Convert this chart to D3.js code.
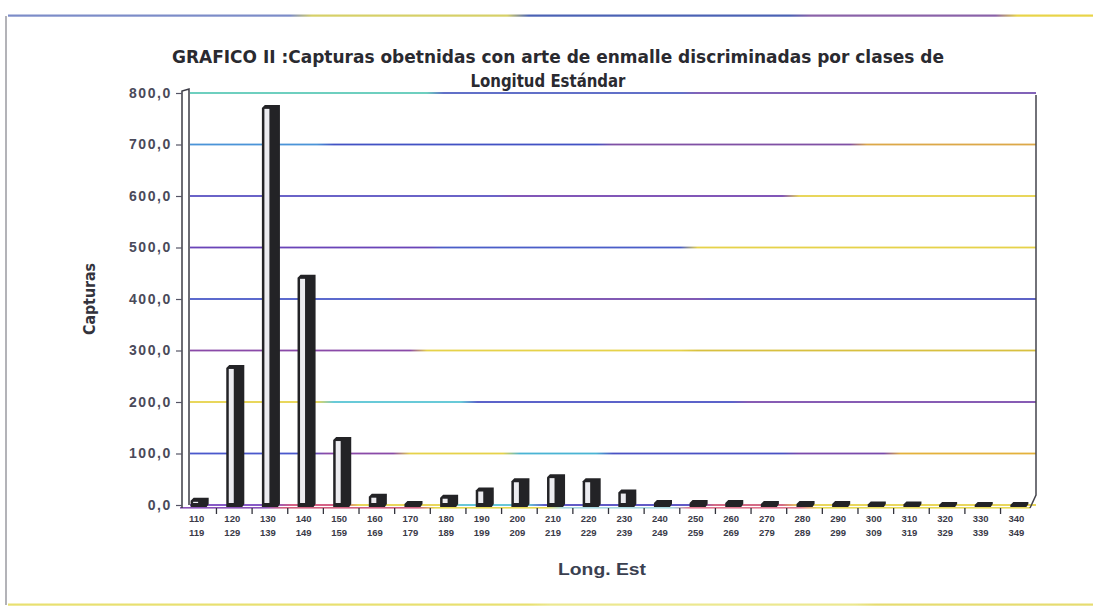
<!DOCTYPE html>
<html>
<head>
<meta charset="utf-8">
<script src="https://cdn.jsdelivr.net/npm/d3@7"></script>
<style>
  html, body { margin: 0; padding: 0; background: #ffffff; }
  svg { display: block; font-family: "Liberation Sans", Arial, sans-serif; }
  .narrow { font-family: "Liberation Sans Narrow", "DejaVu Sans Condensed", "Liberation Sans", sans-serif; }
</style>
</head>
<body>
<svg id="chart" width="1093" height="613"></svg>
<script>
// Length classes (lower and upper bound of each class)
const classStart = ["110","120","130","140","150","160","170","180","190","200","210","220",
                    "230","240","250","260","270","280","290","300","310","320","330","340"];
const classEnd   = ["119","129","139","149","159","169","179","189","199","209","219","229",
                    "239","249","259","269","279","289","299","309","319","329","339","349"];
// Catch per length class
const capturas   = [12, 270, 775, 445, 130, 20, 6, 18, 32, 50, 58, 50,
                    28, 8, 8, 8, 6, 6, 6, 5, 5, 4, 4, 4];
// Value-axis ticks
const yTicks = [0, 100, 200, 300, 400, 500, 600, 700, 800];

const titleLines = ["GRAFICO II :Capturas obetnidas con arte de enmalle discriminadas por clases de",
                    "Longitud Estándar"];

// Gridline colour runs: [x start fraction, colour]
const gridPalette = {
  0:   [[0,"#7a48c0"],[0.12,"#d05078"],[0.2,"#e6d24a"],[0.32,"#58c0d4"],[0.42,"#5048c0"],[0.62,"#d05a78"],[0.72,"#e6d24a"]],
  100: [[0,"#4a58cc"],[0.16,"#8a4aa8"],[0.26,"#e6d24a"],[0.39,"#4ab4d4"],[0.5,"#4a52c4"],[0.72,"#7a4aac"],[0.84,"#e4b23c"]],
  200: [[0,"#e6d24a"],[0.17,"#58c4d4"],[0.34,"#4a52c4"],[0.66,"#7a4aac"]],
  300: [[0,"#8a4aa8"],[0.28,"#e6d24a"],[0.6,"#d8c040"]],
  400: [[0,"#4a5ac8"],[0.25,"#7448ac"],[0.62,"#4c52c0"]],
  500: [[0,"#6a44b8"],[0.3,"#4a5ec8"],[0.6,"#e6d24a"]],
  600: [[0,"#5a52c2"],[0.38,"#7444b0"],[0.72,"#e6d24a"]],
  700: [[0,"#4a94d8"],[0.17,"#4252c4"],[0.5,"#8050a4"],[0.8,"#dca848"]],
  800: [[0,"#5ecab8"],[0.3,"#5060c2"],[0.6,"#7452b0"]]
};

const svg = d3.select("#chart");
const defs = svg.append("defs");

const plot = { left: 186, right: 1036, top: 93, bottom: 505 };

const x = d3.scaleBand()
  .domain(classStart)
  .range([181, 1036])
  .paddingInner(0.55)
  .paddingOuter(0.27);

const y = d3.scaleLinear()
  .domain([0, 800])
  .range([plot.bottom, plot.top]);

// hard-edged multicolour gradient for a horizontal rule
function gradient(id, runs) {
  const g = defs.append("linearGradient").attr("id", id)
    .attr("x1", "0%").attr("x2", "100%").attr("y1", "0%").attr("y2", "0%");
  runs.forEach((r, i) => {
    const end = i + 1 < runs.length ? runs[i + 1][0] : 1;
    g.append("stop").attr("offset", r[0]).attr("stop-color", r[1]);
    g.append("stop").attr("offset", Math.max(r[0], end - 0.02)).attr("stop-color", r[1]);
  });
  return `url(#${id})`;
}

// page frame lines
svg.append("rect").attr("x", 8).attr("y", 14.5).attr("width", 1085).attr("height", 2.2)
  .attr("fill", gradient("frameTop", [[0,"#7c8cc8"],[0.28,"#d6d068"],[0.48,"#4a62b4"],[0.74,"#8a62a8"],[0.93,"#e8d448"]]));
svg.append("rect").attr("x", 8).attr("y", 603.5).attr("width", 1085).attr("height", 2.2)
  .attr("fill", gradient("frameBottom", [[0,"#e8e070"],[0.5,"#ece890"],[0.8,"#e6dc70"]]));
svg.append("line").attr("x1", 6).attr("x2", 6).attr("y1", 16).attr("y2", 605)
  .attr("stroke", "#9a9aa0").attr("stroke-width", 1.5);

// gridlines on the back wall
yTicks.forEach(v => {
  svg.append("rect")
    .attr("x", plot.left + 4).attr("width", plot.right - plot.left - 4)
    .attr("y", y(v) - 0.9).attr("height", 1.8)
    .attr("fill", gradient("grid" + v, gridPalette[v]));
});
// front floor edge
svg.append("rect").attr("x", plot.left - 6).attr("width", plot.right - plot.left)
  .attr("y", plot.bottom + 2).attr("height", 1.6)
  .attr("fill", gradient("floorFront", [[0,"#8a52b8"],[0.12,"#d06080"],[0.3,"#e6d850"],[0.45,"#a8d8e0"],[0.6,"#e07890"],[0.75,"#e8da58"]]));

// side walls
svg.append("path")
  .attr("d", `M${plot.left - 4},${plot.bottom + 3} L${plot.left - 4},${plot.top - 2} L${plot.left + 3},${plot.top - 4} L${plot.left + 3},${plot.bottom}`)
  .attr("fill", "none").attr("stroke", "#3c3c46").attr("stroke-width", 1.5);
svg.append("path")
  .attr("d", `M${plot.right},${plot.top + 2} L${plot.right},${plot.bottom - 10} L${plot.right - 6},${plot.bottom + 3}`)
  .attr("fill", "none").attr("stroke", "#44444c").attr("stroke-width", 1.5);

// value axis
const yAxis = svg.append("g")
  .attr("transform", `translate(${plot.left - 4},0)`)
  .call(d3.axisLeft(y).tickValues(yTicks).tickSize(6).tickPadding(4)
        .tickFormat(d => d3.format(".1f")(d).replace(".", ",")));
yAxis.select(".domain").remove();
yAxis.selectAll(".tick line").attr("stroke", "#555566").attr("stroke-width", 1.2);
yAxis.selectAll("text")
  .attr("font-size", 14).attr("font-weight", "bold").attr("fill", "#4a4a5a")
  .attr("letter-spacing", 1.6);

// category ticks between classes
const step = x.step();
svg.append("g").selectAll("line")
  .data(classStart.slice(1))
  .join("line")
  .attr("x1", d => x(d) - (step - x.bandwidth()) / 2)
  .attr("x2", d => x(d) - (step - x.bandwidth()) / 2)
  .attr("y1", plot.bottom + 3).attr("y2", plot.bottom + 9)
  .attr("stroke", "#33333c").attr("stroke-width", 1.3);

// bars: dark column with a light inner strip and a small top cap
const bars = svg.append("g").selectAll("g")
  .data(capturas.map((v, i) => ({ cls: classStart[i], v })))
  .join("g");
bars.append("path")
  .attr("d", d => {
    const x0 = x(d.cls), w = x.bandwidth(), t = y(d.v);
    return `M${x0},${plot.bottom + 2} L${x0},${t + 2} L${x0 + 3},${t - 1} L${x0 + w + 2},${t - 1} L${x0 + w + 2},${plot.bottom - 1} L${x0 + w},${plot.bottom + 2} Z`;
  })
  .attr("fill", "#232326");
bars.append("rect")
  .attr("x", d => x(d.cls) + 2.5)
  .attr("width", 5)
  .attr("y", d => y(d.v) + 3)
  .attr("height", d => Math.max(0, plot.bottom - y(d.v) - 5))
  .attr("fill", "#ececf0");

// category labels (two lines per class)
const labels = svg.append("g").selectAll("text")
  .data(classStart.map((s, i) => ({ s, e: classEnd[i] })))
  .join("text")
  .attr("text-anchor", "middle")
  .attr("font-size", 9.5).attr("font-weight", "bold").attr("fill", "#3a3a48");
labels.append("tspan")
  .attr("x", d => x(d.s) + x.bandwidth() / 2 - 2).attr("y", 522).text(d => d.s);
labels.append("tspan")
  .attr("x", d => x(d.s) + x.bandwidth() / 2 - 2).attr("y", 536).text(d => d.e);

// titles
svg.append("text").attr("class", "narrow").attr("x", 558).attr("y", 63)
  .attr("text-anchor", "middle").attr("font-size", 17).attr("font-weight", "bold")
  .attr("fill", "#2a2a30").attr("textLength", 772).attr("lengthAdjust", "spacingAndGlyphs")
  .text(titleLines[0]);
svg.append("text").attr("class", "narrow").attr("x", 548).attr("y", 87)
  .attr("text-anchor", "middle").attr("font-size", 17).attr("font-weight", "bold")
  .attr("fill", "#2a2a30").attr("textLength", 155).attr("lengthAdjust", "spacingAndGlyphs")
  .text(titleLines[1]);

svg.append("text").attr("class", "narrow")
  .attr("transform", "translate(95,299) rotate(-90)")
  .attr("text-anchor", "middle").attr("font-size", 16).attr("font-weight", "bold")
  .attr("fill", "#33333c").attr("textLength", 72).attr("lengthAdjust", "spacingAndGlyphs")
  .text("Capturas");

svg.append("text").attr("x", 602).attr("y", 575)
  .attr("text-anchor", "middle").attr("font-size", 17).attr("font-weight", "bold")
  .attr("fill", "#3a4050").attr("textLength", 88).attr("lengthAdjust", "spacingAndGlyphs")
  .text("Long. Est");
</script>
</body>
</html>
